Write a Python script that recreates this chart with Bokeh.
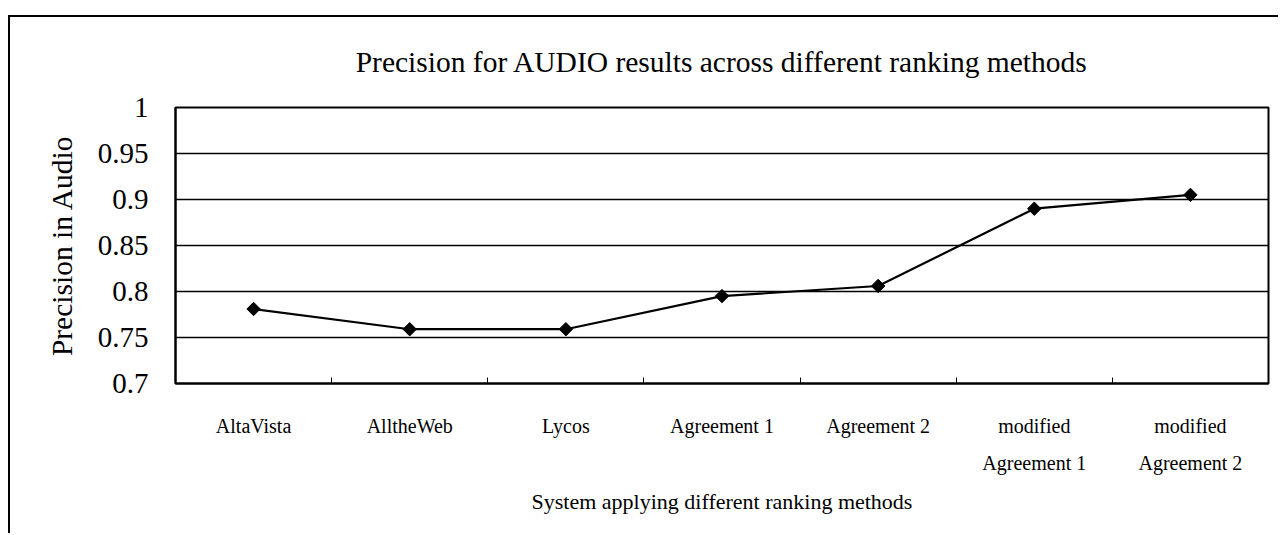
import math
from bokeh.plotting import figure
from bokeh.models import FixedTicker, NumeralTickFormatter
from bokeh.embed import file_html
from bokeh.resources import INLINE

categories = ["AltaVista", "AlltheWeb", "Lycos", "Agreement 1", "Agreement 2",
              "modified\nAgreement 1", "modified\nAgreement 2"]
precision = [0.781, 0.759, 0.759, 0.795, 0.806, 0.890, 0.905]
y_ticks = [0.7, 0.75, 0.8, 0.85, 0.9, 0.95, 1.0]

xs = [i + 0.5 for i in range(len(categories))]

FONT = "Liberation Serif"

# figure placed at (8, 15) with a 2px border on its left and top sides
OX, OY = 10, 17

p = figure(width=1270, height=518, output_backend="svg", toolbar_location=None,
           x_range=(0, len(categories)), y_range=(0.7, 1.0),
           min_border_left=175 - OX, min_border_right=1280 - 1268,
           min_border_top=107 - OY, min_border_bottom=535 - 383,
           title="Precision for AUDIO results across different ranking methods")
p.margin = (15, 0, 0, 8)
p.styles = {"border-left": "2px solid black", "border-top": "2px solid black"}

p.background_fill_color = "white"
p.border_fill_color = "white"
p.outline_line_color = "black"
p.outline_line_width = 2

p.title.text_font = FONT
p.title.text_font_size = "29.5px"
p.title.text_font_style = "normal"
p.title.align = "center"
p.title.vertical_align = "top"
p.title.text_color = "black"
p.title.standoff = 55

# x axis
p.xaxis.ticker = FixedTicker(ticks=xs, minor_ticks=list(range(1, len(categories))))
p.xaxis.major_label_overrides = {x: c for x, c in zip(xs, categories)}
p.xaxis.major_tick_line_color = None
p.xaxis.minor_tick_line_color = "black"
p.xaxis.minor_tick_in = 6
p.xaxis.minor_tick_out = 0
p.xaxis.axis_line_width = 2
p.xaxis.major_label_text_font = FONT
p.xaxis.major_label_text_font_size = "20px"
p.xaxis.major_label_text_color = "black"
p.xaxis.major_label_text_line_height = 1.7
p.xaxis.major_label_standoff = 25
p.xaxis.axis_label = "System applying different ranking methods"
p.xaxis.axis_label_text_font = FONT
p.xaxis.axis_label_text_font_size = "22px"
p.xaxis.axis_label_text_font_style = "normal"
p.xaxis.axis_label_text_color = "black"
p.xaxis.axis_label_standoff = 12

# y axis
p.yaxis.ticker = FixedTicker(ticks=y_ticks)
p.yaxis.formatter = NumeralTickFormatter(format="0.[00]")
p.yaxis.major_tick_line_color = None
p.yaxis.minor_tick_line_color = None
p.yaxis.axis_line_width = 2
p.yaxis.major_label_text_font = FONT
p.yaxis.major_label_text_font_size = "29px"
p.yaxis.major_label_text_color = "black"
p.yaxis.major_label_standoff = 21
p.yaxis.axis_label = "Precision in Audio"
p.yaxis.axis_label_text_font = FONT
p.yaxis.axis_label_text_font_size = "29.5px"
p.yaxis.axis_label_text_font_style = "normal"
p.yaxis.axis_label_text_color = "black"
p.yaxis.axis_label_standoff = 17

p.xgrid.grid_line_color = None
p.ygrid.grid_line_color = "black"
p.ygrid.grid_line_width = 1.5

p.line(xs, precision, line_color="black", line_width=2.2)
p.scatter(xs, precision, marker="square", angle=math.pi / 4, size=9.5,
          fill_color="black", line_color="black")

open("out.html", "w").write(file_html(p, INLINE))
